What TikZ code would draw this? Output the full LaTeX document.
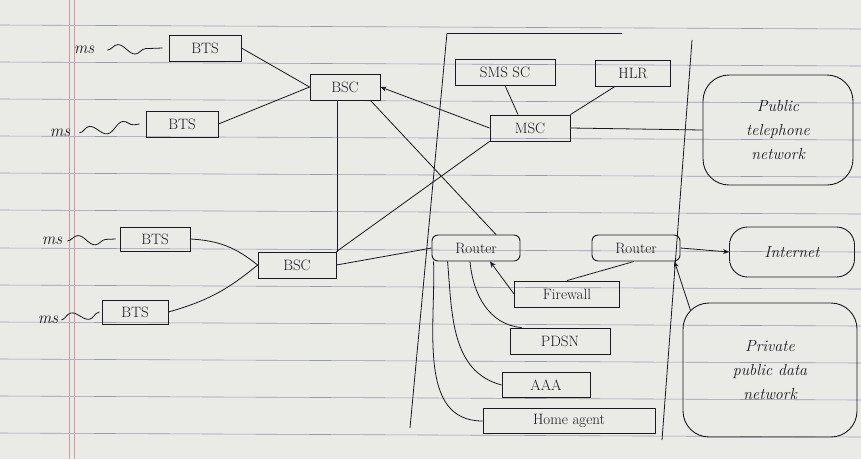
\documentclass[tikz,border=0pt]{standalone}
\usetikzlibrary{arrows.meta,decorations.pathmorphing,calc}
\definecolor{paper}{RGB}{234,234,230}
\definecolor{rule}{RGB}{150,156,168}
\definecolor{margin}{RGB}{214,150,165}
\definecolor{ink}{RGB}{25,25,30}
\begin{document}
\begin{tikzpicture}[x=1pt,y=-1pt,
  every node/.style={font=\fontsize{15}{17}\selectfont, text=ink},
  box/.style={draw=ink, line width=0.9pt, inner sep=2pt, minimum height=26pt},
  rbox/.style={box, rounded corners=6pt},
  cloud/.style={draw=ink, line width=0.9pt, rounded corners=26pt, align=center, font=\fontsize{16}{24}\selectfont\itshape},
  lbl/.style={inner sep=1pt, font=\fontsize{17}{19}\selectfont\itshape},
  link/.style={draw=ink, line width=0.8pt},
  wave/.style={link, decorate, decoration={snake, segment length=34pt, amplitude=5pt}},
  arr/.style={link, -{Stealth[length=6pt,width=5pt]}}]
% paper
\fill[paper] (0,0) rectangle (861,459);
\useasboundingbox (0,0) rectangle (861,459);
\foreach \y in {25,62,99,136,173,210,248,285,322,359,396,433}
  \draw[rule, line width=0.6pt] (0,\y) -- (861,\y+4);
\draw[margin, line width=0.8pt] (69,0) -- (69,459);
\draw[margin, line width=0.8pt] (74,0) -- (74,459);
% core network boundary
\coordinate (tl) at (447,33);
\coordinate (tr) at (622,33);
\coordinate (bl) at (410,428);
\coordinate (rt) at (692,40);
\coordinate (rb) at (662,440);
\draw[link, line width=1pt] (tl) -- (tr);
\draw[link] (tl) -- (bl);
\draw[link] (rt) -- (rb);
% mobile stations and BTS
\node[lbl] (ms1) at (84,50) {ms};
\node[box, minimum width=72pt] (bts1) at (205,48) {BTS};
\node[lbl] (ms2) at (60,133) {ms};
\node[box, minimum width=72pt] (bts2) at (182,124) {BTS};
\node[lbl] (ms3) at (52,241) {ms};
\node[box, minimum width=70pt, minimum height=24pt] (bts3) at (155,239) {BTS};
\node[lbl] (ms4) at (48,320) {ms};
\node[box, minimum width=66pt, minimum height=24pt] (bts4) at (135,312) {BTS};
\draw[wave] ($(ms1.east)+(12,0)$) -- ($(bts1.west)+(-6,0)$);
\draw[wave] ($(ms2.east)+(8,0)$) -- ($(bts2.west)+(-6,0)$);
\draw[wave] ($(ms3.east)+(4,0)$) -- ($(bts3.west)+(-4,0)$);
\draw[wave] ($(ms4.east)+(2,0)$) -- ($(bts4.west)+(-2,0)$);
% BSCs
\node[box, minimum width=70pt] (bsc1) at (345,87) {BSC};
\node[box, minimum width=78pt] (bsc2) at (297,265) {BSC};
% core
\node[box, minimum width=100pt] (sms) at (505,72) {SMS SC};
\node[box, minimum width=75pt] (hlr) at (633,73) {HLR};
\node[box, minimum width=80pt] (msc) at (530,128) {MSC};
\node[rbox, minimum width=88pt] (r1) at (476,248) {Router};
\node[rbox, minimum width=88pt] (r2) at (636,248) {Router};
\node[box, minimum width=105pt] (fw) at (567,294) {Firewall};
\node[box, minimum width=100pt] (pdsn) at (560,341) {PDSN};
\node[box, minimum width=88pt, minimum height=25pt] (aaa) at (546,385) {AAA};
\node[box, minimum width=172pt, minimum height=25pt] (ha) at (569,421) {Home agent};
% external networks
\node[cloud, minimum width=150pt, minimum height=110pt] (ptn) at (778,130) {Public\\telephone\\network};
\node[cloud, rounded corners=18pt, minimum width=125pt, minimum height=50pt] (inet) at (792,252) {Internet};
\node[cloud, minimum width=174pt, minimum height=134pt] (ppdn) at (770,370) {Private\\public data\\network};
% BTS -- BSC
\draw[link] (bts1.east) -- (bsc1.west);
\draw[link] (bts2.east) -- (bsc1.west);
\draw[link] (bts3.east) to[bend left=18] (bsc2.west);
\draw[link] (bts4.east) to[bend right=12] (bsc2.west);
% BSC links
\coordinate (v1) at ($(bsc1.south)+(-8,0)$);
\coordinate (v2) at (v1 |- bsc2.north);
\draw[link] (v1) -- (v2);
\draw[arr] (msc.west) -- (bsc1.east);
\draw[link] ($(bsc1.south east)+(-10,0)$) -- ($(r1.north)+(20,0)$);
\draw[link] (bsc2.north east) -- (msc.south west);
\draw[link] (bsc2.east) -- (r1.west);
% MSC links
\draw[link] (sms.south) -- ($(msc.north)+(-12,0)$);
\draw[link] ($(hlr.south)+(-18,0)$) -- (msc.north east);
\draw[link] (msc.east) -- (ptn.west);
% router 1 links
\draw[link] ($(r1.south west)+(2,0)$) to[out=-88,in=180] (ha.west);
\draw[link] ($(r1.south west)+(16,0)$) to[out=-85,in=165] (aaa.west);
\draw[link] ($(r1.south)+(-6,0)$) to[out=-85,in=175] ($(pdsn.north west)+(12,0)$);
\draw[arr] (fw.west) -- ($(r1.south)+(14,0)$);
\draw[link] (fw.north) -- ($(r2.south)+(-2,0)$);
% router 2 links
\draw[arr] (r2.east) -- (inet.west);
\coordinate (pp) at ($(ppdn.north west)+(8,8)$);
\draw[arr] (pp) -- ($(r2.south east)+(-6,0)$);
\end{tikzpicture}
\end{document}
